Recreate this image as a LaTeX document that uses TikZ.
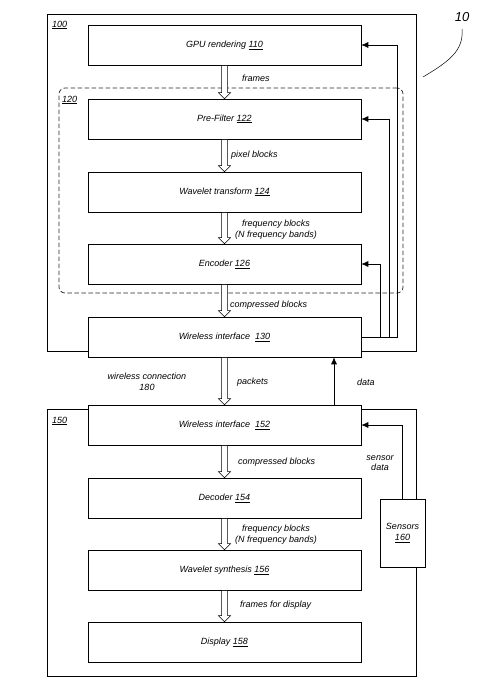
\documentclass[tikz,border=0pt]{standalone}
\usepackage{fontspec}
\setmainfont{Liberation Sans}
\usetikzlibrary{arrows.meta,shadows,calc}
\begin{document}
\begin{tikzpicture}[x=1pt,y=-1pt,
  lbl/.style={font=\fontsize{9}{10.5}\selectfont\itshape, inner sep=0pt},
  box/.style={draw, fill=white, line width=0.6pt, minimum width=273pt, minimum height=40pt, inner sep=0pt,
    font=\fontsize{9}{10.5}\selectfont\itshape,
    drop shadow={shadow xshift=0.9pt, shadow yshift=-0.9pt, opacity=1, fill=black}},
  frame/.style={draw, line width=0.6pt, inner sep=0pt},
  dashframe/.style={draw=black!85, line width=0.7pt, dash pattern=on 4.5pt off 2.5pt, rounded corners=6pt, inner sep=0pt},
  harrow/.style={draw, fill=white, line width=0.5pt},
  fb/.style={draw, line width=0.7pt, -{Latex[length=7pt,width=6pt]}}
]
\useasboundingbox (0,0) rectangle (487,688);

% frames
\node[frame, minimum width=369pt, minimum height=337pt] (sys100) at (231.5,182.5) {};
\node[frame, minimum width=369pt, minimum height=267pt] (sys150) at (231.5,542.5) {};
\node[dashframe, minimum width=344pt, minimum height=205pt] (sys120) at (231,190.5) {};

\node[lbl, anchor=west] (l100) at (52,25) {\underline{100}};
\node[lbl, anchor=west] (l120) at (62,100) {\underline{120}};
\node[lbl, anchor=west] (l150) at (52,421) {\underline{150}};

% process boxes
\node[box] (gpu) at (224.5,45) {GPU rendering \underline{110}};
\node[box] (pre) at (224.5,119) {Pre-Filter \underline{122}};
\node[box] (wt)  at (224.5,192) {Wavelet transform \underline{124}};
\node[box] (enc) at (224.5,264) {Encoder \underline{126}};
\node[box] (wa)  at (224.5,337) {Wireless interface\ \ \underline{130}};
\node[box] (wb)  at (224.5,425) {Wireless interface\ \ \underline{152}};
\node[box] (dec) at (224.5,498) {Decoder \underline{154}};
\node[box] (ws)  at (224.5,570) {Wavelet synthesis \underline{156}};
\node[box] (disp) at (224.5,642) {Display \underline{158}};

\node[box, minimum width=45pt, minimum height=68pt, align=center] (sens) at (402.5,533) {Sensors\\[1pt]\underline{160}};

% hollow arrows
\newcommand{\hollowarrow}[2]{%
  \draw[harrow] let \p1=(#1.south), \p2=(#2.north) in
    (\x1-3pt,\y1-0.5pt) -- (\x1-3pt,\y2+6pt) -- (\x1-6pt,\y2+6pt) -- (\x1,\y2) --
    (\x1+6pt,\y2+6pt) -- (\x1+3pt,\y2+6pt) -- (\x1+3pt,\y1-0.5pt);}
\hollowarrow{gpu}{pre}
\hollowarrow{pre}{wt}
\hollowarrow{wt}{enc}
\hollowarrow{enc}{wa}
\hollowarrow{wa}{wb}
\hollowarrow{wb}{dec}
\hollowarrow{dec}{ws}
\hollowarrow{ws}{disp}

% arrow labels
\node[lbl, anchor=west] (t1) at (242,78) {frames};
\node[lbl, anchor=west] (t2) at (231,155) {pixel blocks};
\node[lbl, align=center] (t3) at (276,229.5) {frequency blocks\\(N frequency bands)};
\node[lbl, anchor=west] (t4) at (230,305) {compressed blocks};
\node[lbl, anchor=west] (t5) at (237,382) {packets};
\node[lbl, align=center] (t6) at (147,382) {wireless connection\\180};
\node[lbl, anchor=west] (t7) at (357,382) {data};
\node[lbl, anchor=west] (t8) at (238,462) {compressed blocks};
\node[lbl, align=center] (t9) at (276,534.5) {frequency blocks\\(N frequency bands)};
\node[lbl, anchor=west] (t10) at (240,605) {frames for display};
\node[lbl, align=center] (t11) at (380,463) {sensor\\data};

% feedback arrows
\coordinate (fa) at (397,337);
\coordinate (fbb) at (389,337);
\coordinate (fc) at (380,337);
\draw[fb] (wa.east) -- (fa) |- (gpu.east);
\draw[fb] (fbb) |- (pre.east);
\draw[fb] (fc) |- (enc.east);
\draw[fb] ([xshift=109.5pt]wb.north) -- ([xshift=109.5pt]wa.south);
\draw[fb] (sens.north) |- (wb.east);

% figure label
\node[font=\fontsize{13}{15}\selectfont\itshape, inner sep=0pt] (fig) at (462,17) {10};
\coordinate (leadend) at (423,77);
\draw[line width=0.5pt] ([yshift=-12pt]fig.center) .. controls +(2,22) and +(25,-15) .. (leadend);
\end{tikzpicture}
\end{document}
